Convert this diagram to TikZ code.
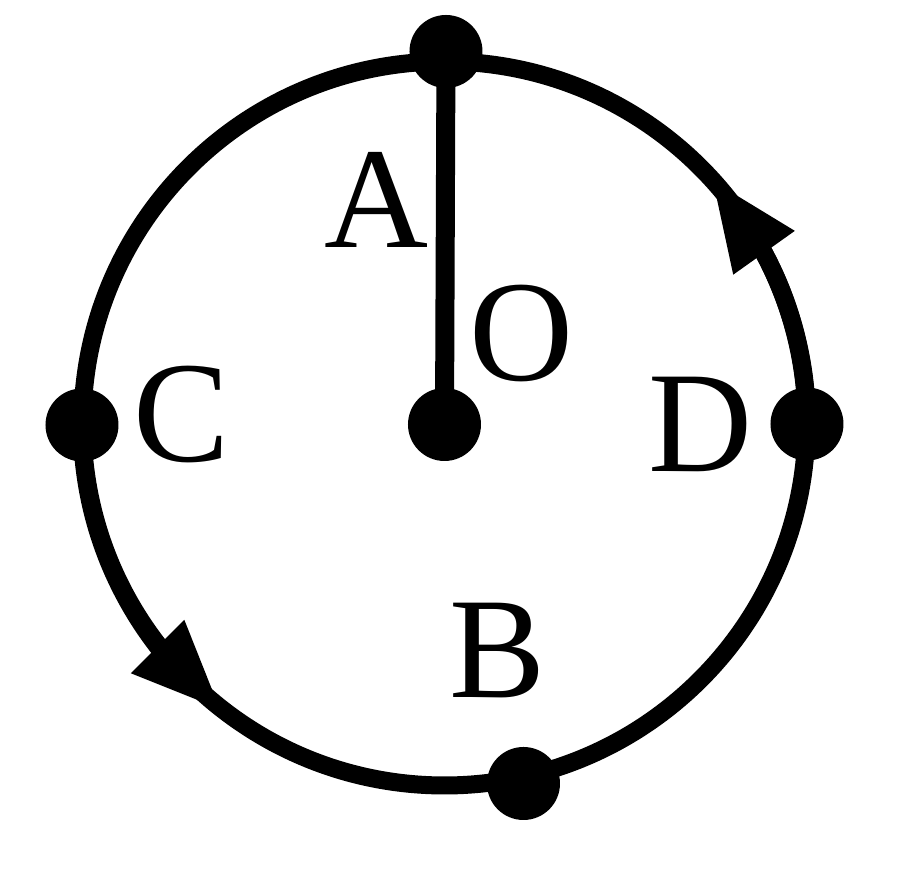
\documentclass[tikz,border=0pt]{standalone}
\usepackage{fontspec}
\setmainfont{Liberation Serif}
\usetikzlibrary{arrows.meta,bending}
\tikzset{
    dot/.style={circle,fill=black,inner sep=0pt,minimum size=0.73cm},
    lbl/.style={anchor=base,inner sep=0pt,font=\fontsize{41}{41}\selectfont},
    rim/.style={line width=0.18cm},
    flow/.style={line width=0.18cm,-{Triangle[length=0.9cm,width=0.7cm,flex]}}
}
\begin{document}
\begin{tikzpicture}
    \useasboundingbox (-4.445,-4.465) rectangle (4.555,4.235);
    % the wheel
    \draw[rim] (0,0) circle[radius=3.62];

    % points on the wheel and the hub
    \node[dot] (O) at (0,-0.01) {};
    \node[dot] (A) at (0.015,3.72) {};
    \node[dot] (C) at (-3.625,-0.015) {};
    \node[dot] (D) at (3.625,-0.005) {};
    \node[dot] (B) at (0.79,-3.6) {};
    \draw[line width=0.19cm] (O.center) -- (A.center);

    % sense of rotation
    \draw[flow] (D.center) arc[start angle=0,end angle=42.5,radius=3.62];
    \draw[flow] (C.center) arc[start angle=180,end angle=232,radius=3.62];

    % letters
    \node[lbl] (labA) at (-0.68,1.755) {A};
    \node[lbl] (labO) at (0.775,0.425) {O};
    \node[lbl] (labC) at (-2.63,-0.385) {C};
    \node[lbl] (labD) at (2.565,-0.485) {D};
    \node[lbl] (labB) at (0.53,-2.745) {B};
\end{tikzpicture}
\end{document}
